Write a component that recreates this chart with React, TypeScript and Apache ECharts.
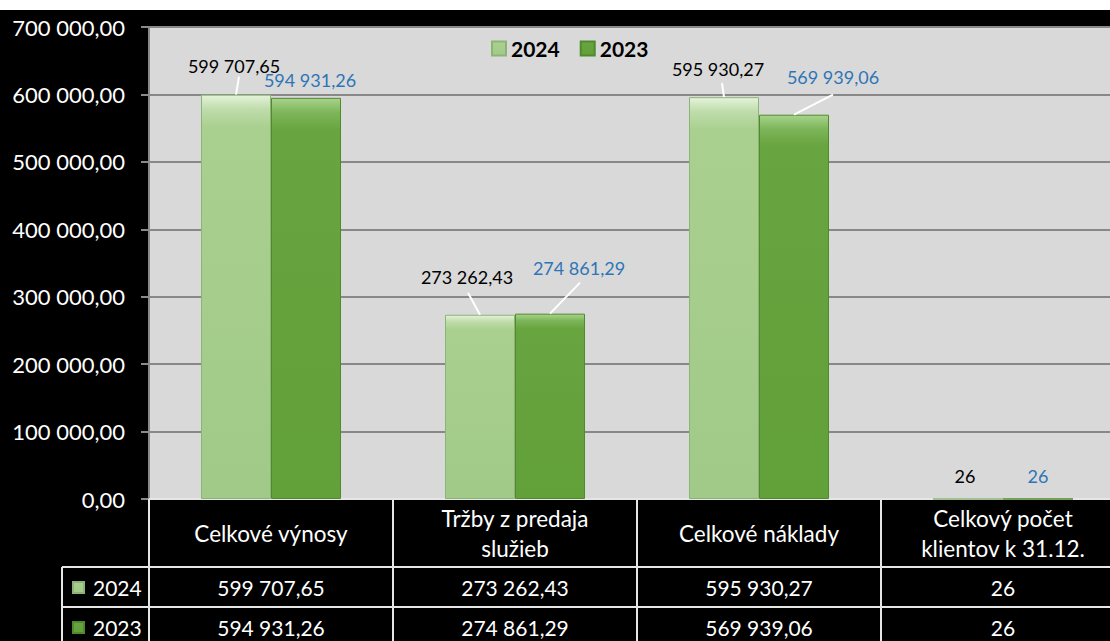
import React, { useEffect, useRef } from 'react';
import * as echarts from 'echarts';

const categories = ['Celkové výnosy', 'Tržby z predaja\nslužieb', 'Celkové náklady', 'Celkový počet\nklientov k 31.12.'];
const seriesNames = ['2024', '2023'];
const values2024 = [599707.65, 273262.43, 595930.27, 26];
const values2023 = [594931.26, 274861.29, 569939.06, 26];
const yMin = 0;
const yMax = 700000;
const yInterval = 100000;

// label displacement (px) relative to default "top" position
const labelShift2024 = [[-2, -15], [-13, -24], [-6, -14], [-3, -8]];
const labelShift2023 = [[4, -4], [29, -32], [39, -24], [0, -8]];
// leader line end (px) relative to bar top centre; [0,0] = no line
const leader2024 = [[3, -18], [-12, -22], [-2, -14], [0, 0]];
const leader2023 = [[0, 0], [30, -31], [39, -20], [0, 0]];

const BAR_W = 70;
const FONT = 'Lato, "Open Sans", sans-serif';

function fmt(v: number, dec?: number): string {
  const d = dec ?? (Number.isInteger(v) ? 0 : 2);
  const [i, f] = v.toFixed(d).split('.');
  const ii = i.replace(/\B(?=(\d{3})+(?!\d))/g, ' ');
  return f ? ii + ',' + f : ii;
}

function leaderSeries(values: number[], ends: number[][], side: number) {
  return {
    type: 'custom', xAxisIndex: 0, z: 5, silent: true,
    data: values.map((v, i) => [i, v]),
    encode: { x: 0, y: 1 },
    renderItem: (params: any, api: any) => {
      const [dx, dy] = ends[params.dataIndex];
      if (!dx && !dy) return null;
      const pt = api.coord([api.value(0), api.value(1)]);
      const x = pt[0] + side * BAR_W / 2;
      return {
        type: 'line',
        shape: { x1: x, y1: pt[1], x2: x + dx, y2: pt[1] + dy },
        style: { stroke: '#ffffff', lineWidth: 2 },
      };
    },
  };
}

export default function App() {
  const ref = useRef<HTMLDivElement>(null);
  useEffect(() => {
    if (!ref.current) return;
    const chart = echarts.init(ref.current, undefined, { renderer: 'svg' });
    const c24 = new echarts.graphic.LinearGradient(0, 0, 0, 1, [
      { offset: 0, color: '#e4f3da' },
      { offset: 0.035, color: '#bfdcab' },
      { offset: 0.08, color: '#a9d08f' },
      { offset: 1, color: '#a1c987' },
    ]);
    const c23 = new echarts.graphic.LinearGradient(0, 0, 0, 1, [
      { offset: 0, color: '#a9d38c' },
      { offset: 0.035, color: '#7db65a' },
      { offset: 0.08, color: '#68a43f' },
      { offset: 1, color: '#62a03a' },
    ]);
    const tableLine = { color: '#e6e6e6', width: 2 };
    const rowLabel = { color: '#fff', fontSize: 21, fontFamily: FONT, interval: 0, margin: 20, verticalAlign: 'middle' };
    const option: any = {
      animation: false,
      backgroundColor: '#000000',
      textStyle: { fontFamily: FONT },
      grid: {
        left: 149, top: 17, width: 976, height: 472,
        containLabel: false, outerBoundsMode: 'none',
        show: true, backgroundColor: '#d9d9d9', borderWidth: 0,
      },
      legend: [
        {
          data: seriesNames, left: 491, top: 28, padding: 0,
          icon: 'rect', itemWidth: 14, itemHeight: 14, itemGap: 20,
          textStyle: { fontSize: 21, fontWeight: 'bold', color: '#000', fontFamily: FONT, lineHeight: 20 },
        },
        {
          data: [seriesNames[0]], left: 72, top: 567, padding: 0,
          icon: 'rect', itemWidth: 11, itemHeight: 11,
          textStyle: { fontSize: 21, color: '#fff', fontFamily: FONT, lineHeight: 20, padding: [0, 0, 0, 4] },
        },
        {
          data: [seriesNames[1]], left: 72, top: 607, padding: 0,
          icon: 'rect', itemWidth: 11, itemHeight: 11,
          textStyle: { fontSize: 21, color: '#fff', fontFamily: FONT, lineHeight: 20, padding: [0, 0, 0, 4] },
        },
      ],
      xAxis: [
        {
          type: 'category', data: categories, position: 'bottom',
          axisLine: { show: true, lineStyle: tableLine },
          axisTick: { show: true, length: 68, interval: 0, lineStyle: tableLine },
          axisLabel: {
            color: '#fff', fontSize: 22.5, fontFamily: FONT, interval: 0,
            margin: 34, verticalAlign: 'middle', lineHeight: 30,
          },
        },
        {
          type: 'category', data: values2024.map((v) => fmt(v)), position: 'bottom', offset: 68,
          axisLine: { show: true, lineStyle: tableLine },
          axisTick: { show: true, length: 40, interval: 0, lineStyle: tableLine },
          axisLabel: rowLabel,
        },
        {
          type: 'category', data: values2023.map((v) => fmt(v)), position: 'bottom', offset: 108,
          axisLine: { show: true, lineStyle: tableLine },
          axisTick: { show: true, length: 40, interval: 0, lineStyle: tableLine },
          axisLabel: rowLabel,
        },
      ],
      yAxis: {
        type: 'value', min: yMin, max: yMax, interval: yInterval,
        axisLine: { show: true, lineStyle: { color: '#8a8a8a', width: 2 } },
        axisTick: { show: true, length: 8, lineStyle: { color: '#8a8a8a', width: 2 } },
        axisLabel: {
          color: '#fff', fontSize: 22, fontFamily: FONT, margin: 24,
          formatter: (v: number) => fmt(v, 2),
        },
        splitLine: { show: true, lineStyle: { color: '#888888', width: 2 } },
      },
      graphic: [
        { type: 'line', shape: { x1: 62, y1: 557, x2: 149, y2: 557 }, style: { stroke: '#e6e6e6', lineWidth: 2 } },
        { type: 'line', shape: { x1: 62, y1: 597, x2: 149, y2: 597 }, style: { stroke: '#e6e6e6', lineWidth: 2 } },
        { type: 'line', shape: { x1: 62, y1: 557, x2: 62, y2: 640 }, style: { stroke: '#e6e6e6', lineWidth: 2 } },
      ],
      series: [
        {
          name: seriesNames[0], type: 'bar', xAxisIndex: 0, data: values2024,
          barWidth: BAR_W, barGap: '0%',
          itemStyle: { color: c24, borderColor: '#8db477', borderWidth: 1 },
          label: {
            show: true, position: 'top', color: '#000', fontSize: 18, fontFamily: FONT,
            formatter: (p: any) => fmt(p.value),
          },
          labelLayout: (p: any) => ({ dx: labelShift2024[p.dataIndex][0], dy: labelShift2024[p.dataIndex][1] }),
        },
        {
          name: seriesNames[1], type: 'bar', xAxisIndex: 0, data: values2023,
          barWidth: BAR_W, barGap: '0%',
          itemStyle: { color: c23, borderColor: '#4f8a2c', borderWidth: 1 },
          label: {
            show: true, position: 'top', color: '#2e75b6', fontSize: 18, fontFamily: FONT,
            formatter: (p: any) => fmt(p.value),
          },
          labelLayout: (p: any) => ({ dx: labelShift2023[p.dataIndex][0], dy: labelShift2023[p.dataIndex][1] }),
        },
        leaderSeries(values2024, leader2024, -1),
        leaderSeries(values2023, leader2023, 1),
      ],
    };
    chart.setOption(option);
    return () => chart.dispose();
  }, []);
  return (
    <div style={{ position: 'fixed', left: 0, top: 0, width: 1110, height: 641, background: '#ffffff', overflow: 'hidden' }}>
      <div ref={ref} style={{ position: 'absolute', left: 0, top: 10, width: 1110, height: 631 }} />
    </div>
  );
}
